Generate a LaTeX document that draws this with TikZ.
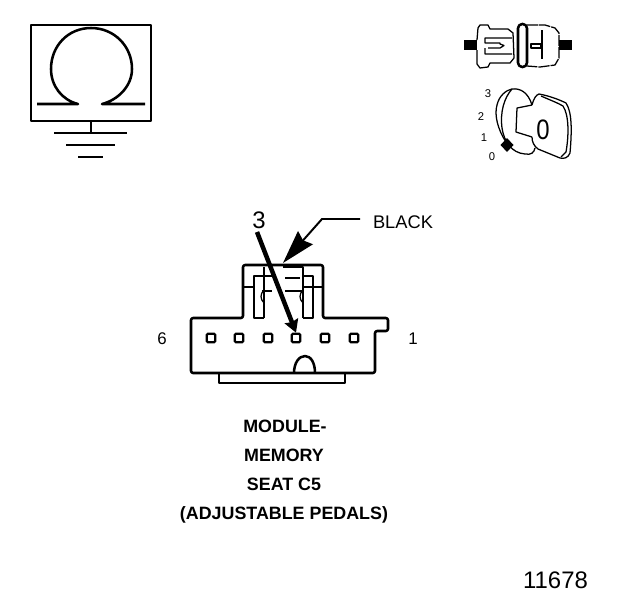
\documentclass[tikz,border=0pt]{standalone}
\usepackage{fontspec}
\setmainfont{Liberation Sans}
\usetikzlibrary{
    arrows.meta,
    calc,
    positioning
}
\tikzset{
    thinline/.style={line width=0.9pt, line join=round},
    heavyline/.style={line width=1.8pt, line join=round},
    pinbox/.style={draw, line width=1.6pt, rounded corners=0.8pt, minimum size=0.21cm, inner sep=0pt},
    caption/.style={font=\fontsize{12.7}{14}\selectfont\bfseries, inner sep=0pt, anchor=base},
    dialnum/.style={font=\fontsize{8}{9}\selectfont, inner sep=0pt},
    sidenum/.style={font=\fontsize{12}{14}\selectfont, inner sep=0pt}
}
\begin{document}
\begin{tikzpicture}[x=0.025cm, y=-0.025cm]
    \useasboundingbox (0, 0) rectangle (624, 600);
    % ground symbol
    \draw[heavyline] (31, 25) rectangle (151, 121);
    \draw[heavyline] (37, 104) -- (78, 104) .. controls (62, 100) and (51, 86) .. (51, 69)
        .. controls (51, 46) and (68, 28) .. (91, 28)
        .. controls (114, 28) and (132, 46) .. (132, 69)
        .. controls (132, 86) and (118, 100) .. (102, 104) -- (145, 104);
    \draw[heavyline] (91, 121) -- (91, 133);
    \draw[heavyline] (54, 133) -- (127, 133);
    \draw[heavyline] (66, 145) -- (115, 145);
    \draw[heavyline] (78, 157) -- (103, 157);
    % plug
    \fill (464, 40) rectangle (477, 50);
    \fill (559, 40) rectangle (572, 50);
    \draw[thinline] (477, 40) -- (478, 28) -- (480, 25) -- (488, 25) -- (490, 29) -- (508, 29) -- (513, 33)
        -- (514, 58) -- (510, 63) -- (490, 63) -- (488, 67) -- (480, 68) -- (477, 64) -- (477, 50);
    \draw[thinline] (512, 38) -- (485, 38) -- (485, 43) -- (500, 43) -- (500, 44) -- (504, 45.5) -- (500, 48)
        -- (488, 48) (485, 48) -- (485, 54) -- (512, 54);
    \draw[heavyline, rounded corners=3pt] (518, 24) rectangle (527, 67);
    \draw[thinline, dash pattern=on 8pt off 0.7pt] (527, 25) -- (545, 25) -- (555, 28) -- (559, 33) -- (559, 58)
        -- (555, 65) -- (540, 67) -- (527, 66);
    \draw[thinline] (542, 30) -- (542, 59);
    \draw[thinline] (531, 44) rectangle (541, 48);
    % key
    \node[dialnum] (dial3) at (488, 94) {3};
    \node[dialnum] (dial2) at (481, 117) {2};
    \node[dialnum] (dial1) at (484, 138) {1};
    \node[dialnum] (dial0) at (492, 157) {0};
    \draw[thinline] (506, 142) .. controls (498, 130) and (494, 115) .. (497, 105)
        .. controls (499, 96) and (506, 90) .. (512, 89)
        .. controls (520, 88) and (528, 92) .. (532, 105);
    \draw[thinline] (512, 89) .. controls (504, 98) and (500, 112) .. (502, 128)
        .. controls (504, 142) and (512, 153) .. (525, 154)
        .. controls (531, 155) and (534, 153) .. (535, 148);
    \draw[thinline] (532, 105) -- (517, 108) -- (516, 132) -- (532, 137);
    \draw[thinline] (532, 105) .. controls (534, 98) and (536, 95) .. (539, 94)
        .. controls (550, 96) and (560, 100) .. (566, 103)
        .. controls (572, 112) and (572, 130) .. (570, 153)
        .. controls (568, 158) and (564, 159) .. (560, 158)
        -- (538, 149) .. controls (534, 146) and (532, 142) .. (532, 137);
    \draw[thinline] (541, 96) .. controls (550, 100) and (558, 103) .. (563, 106)
        .. controls (569, 115) and (569, 135) .. (566, 152) -- (561, 157);
    \fill (507, 138) -- (513.5, 145) -- (507, 152) -- (500.5, 145) -- cycle;
    \node[font=\fontsize{20}{22}\selectfont, inner sep=0pt, xscale=0.85] (keynum) at (543, 130) {0};
    % connector
    \draw[heavyline, rounded corners=1.5pt] (243, 265) -- (243, 318) -- (191, 318) -- (191, 373) -- (375, 373)
        -- (375, 331) -- (388, 331) -- (388, 318) -- (323, 318) -- (323, 265) -- cycle;
    \draw[heavyline] (219, 373) -- (219, 383) -- (345, 383) -- (345, 373);
    \draw[heavyline] (294, 373) .. controls (294, 363) and (299, 356) .. (305, 356)
        .. controls (311, 356) and (315, 363) .. (315, 373);
    \draw[heavyline] (243, 287) -- (254, 287) (303, 287) -- (323, 287);
    \draw[heavyline] (264, 318) -- (254, 318) -- (254, 276) -- (272, 276);
    \draw[heavyline] (264, 267) -- (264, 318);
    \draw[heavyline] (303, 318) -- (313, 318) -- (313, 276) -- (304, 276);
    \draw[heavyline] (283, 267) -- (303, 267) -- (303, 318);
    \draw[heavyline] (285, 278) -- (300, 278);
    \draw[heavyline] (262, 291) -- (272, 291);
    \draw[heavyline] (285, 291) -- (303, 291);
    \draw[thinline] (264, 290) .. controls (260, 294) and (260, 299) .. (264, 303);
    \draw[thinline] (303, 290) .. controls (299, 294) and (299, 299) .. (303, 303);
    \node[pinbox] (pin6) at (211, 338) {};
    \node[pinbox] (pin5) at (239, 338) {};
    \node[pinbox] (pin4) at (268, 338) {};
    \node[pinbox] (pin3) at (296, 338) {};
    \node[pinbox] (pin2) at (325, 338) {};
    \node[pinbox] (pin1) at (354, 338) {};
    \node[sidenum] (sixlbl) at (162, 339) {6};
    \node[sidenum] (onelbl) at (413, 339) {1};
    % callouts
    \node[font=\fontsize{17}{18}\selectfont, inner sep=0pt] (threelbl) at (259, 220) {3};
    \coordinate (threetail) at (257, 232);
    \draw[line width=3.2pt, -{Stealth[length=9pt, width=10pt, inset=1pt]}] (threetail) -- (pin3.north);
    \node[font=\fontsize{13}{15}\selectfont, inner sep=0pt] (blacklbl) at (403, 222) {BLACK};
    \coordinate (leaderend) at (360, 219);
    \coordinate (leaderbend) at (322, 219);
    \coordinate (leadertip) at (283, 263);
    \draw[line width=1.4pt, -{Stealth[length=24pt, width=14pt, inset=2.5pt]}] (leaderend) -- (leaderbend) -- (leadertip);
    % caption
    \node[caption] (cap1) at (285, 432) {MODULE-};
    \node[caption] (cap2) at (284, 461) {MEMORY};
    \node[caption] (cap3) at (284, 490) {SEAT C5};
    \node[caption] (cap4) at (284, 519) {(ADJUSTABLE PEDALS)};
    \node[font=\fontsize{17}{19}\selectfont, inner sep=0pt] (fignum) at (555.5, 580) {11678};
\end{tikzpicture}
\end{document}
